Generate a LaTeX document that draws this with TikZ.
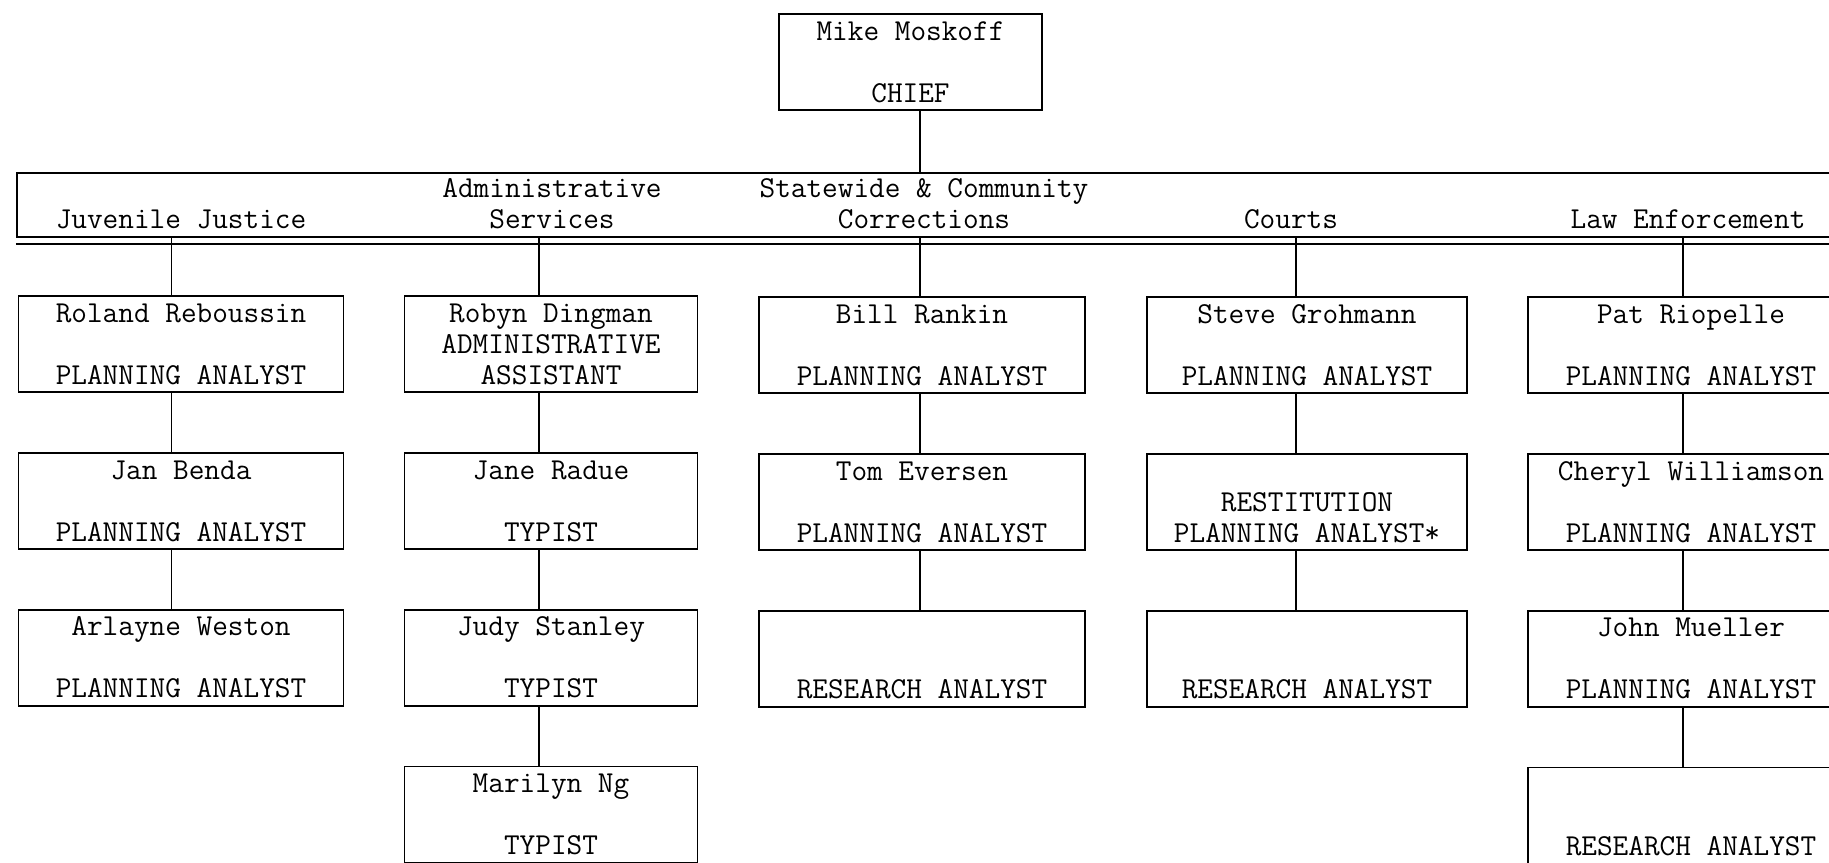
\documentclass[tikz,border=0pt]{standalone}
\usepackage{fontspec}
\usepackage{tikz}
\usetikzlibrary{positioning}
\newcommand{\orgfont}{\ttfamily\fontsize{15.2}{15.5}\selectfont}
\newcommand{\slots}[3]{\rule{0pt}{12.4pt}#1\\\strut#2\\\rule[-3.1pt]{0pt}{3.1pt}#3}
\tikzset{
  staffbox/.style={draw, line width=0.9pt, minimum height=48pt, inner sep=0pt, align=center, font=\orgfont},
  chiefbox/.style={staffbox, minimum width=131.5pt},
  headband/.style={draw, line width=1.1pt, minimum width=921.5pt, minimum height=32pt, inner sep=0pt},
  headtext/.style={align=center, font=\orgfont},
  orglink/.style={line width=0.9pt}
}

\begin{document}
\begin{tikzpicture}[x=0.5pt, y=-0.5pt, node distance=29.5pt]
\clip (0,0) rectangle (1829,862);
\fill[white] (0,0) rectangle (1829,862);
% chief
\node[chiefbox] (chief) at (910.5,62) {\slots{Mike Moskoff}{}{CHIEF}};
% header band
\node[headband] (band) at (938.5,205) {};
\draw[orglink] ([yshift=-3pt]band.south west) -- ([yshift=-3pt]band.south east);
\node[headtext] (hjj) at (181,219) {Juvenile Justice};
\node[headtext] (has) at (552,203.5) {Administrative\\Services};
\node[headtext] (hsc) at (924,203.5) {Statewide \& Community\\Corrections};
\node[headtext] (hct) at (1291,219) {Courts};
\node[headtext] (hle) at (1688,219) {Law Enforcement};
% juvenile justice
\node[staffbox, minimum width=162.5pt] (jj1) at (181,344) {\slots{Roland Reboussin}{}{PLANNING ANALYST}};
\node[staffbox, minimum width=162.5pt, below=29.5pt of jj1] (jj2) {\slots{Jan Benda}{}{PLANNING ANALYST}};
\node[staffbox, minimum width=162.5pt, below=29.5pt of jj2] (jj3) {\slots{Arlayne Weston}{}{PLANNING ANALYST}};
% administrative services
\node[staffbox, minimum width=146.5pt] (as1) at (551,344) {\slots{Robyn Dingman}{ADMINISTRATIVE}{ASSISTANT}};
\node[staffbox, minimum width=146.5pt, below=29.5pt of as1] (as2) {\slots{Jane Radue}{}{TYPIST}};
\node[staffbox, minimum width=146.5pt, below=29.5pt of as2] (as3) {\slots{Judy Stanley}{}{TYPIST}};
\node[staffbox, minimum width=146.5pt, below=29.5pt of as3] (as4) {\slots{Marilyn Ng}{}{TYPIST}};
% statewide & community corrections
\node[staffbox, minimum width=163pt] (sc1) at (922,345) {\slots{Bill Rankin}{}{PLANNING ANALYST}};
\node[staffbox, minimum width=163pt, below=29.5pt of sc1] (sc2) {\slots{Tom Eversen}{}{PLANNING ANALYST}};
\node[staffbox, minimum width=163pt, below=29.5pt of sc2] (sc3) {\slots{}{}{RESEARCH ANALYST}};
% courts
\node[staffbox, minimum width=160pt] (ct1) at (1307,345) {\slots{Steve Grohmann}{}{PLANNING ANALYST}};
\node[staffbox, minimum width=160pt, below=29.5pt of ct1] (ct2) {\slots{}{RESTITUTION}{PLANNING ANALYST*}};
\node[staffbox, minimum width=160pt, below=29.5pt of ct2] (ct3) {\slots{}{}{RESEARCH ANALYST}};
% law enforcement
\node[staffbox, minimum width=163pt] (le1) at (1691,345) {\slots{Pat Riopelle}{}{PLANNING ANALYST}};
\node[staffbox, minimum width=163pt, below=29.5pt of le1] (le2) {\slots{Cheryl Williamson}{}{PLANNING ANALYST}};
\node[staffbox, minimum width=163pt, below=29.5pt of le2] (le3) {\slots{John Mueller}{}{PLANNING ANALYST}};
\node[staffbox, minimum width=163pt, below=29.5pt of le3] (le4) {\slots{}{}{RESEARCH ANALYST}};
% connector lines
\coordinate (jjx) at (171.5,0);
\coordinate (asx) at (539,0);
\coordinate (scx) at (920,0);
\coordinate (ctx) at (1296,0);
\coordinate (lex) at (1683,0);
\draw[orglink] (chief.south -| scx) -- (band.north -| scx);
\draw[orglink] (band.south -| jjx) -- (jj1.north -| jjx) (jj1.south -| jjx) -- (jj2.north -| jjx)
  (jj2.south -| jjx) -- (jj3.north -| jjx);
\draw[orglink] (band.south -| asx) -- (as1.north -| asx) (as1.south -| asx) -- (as2.north -| asx)
  (as2.south -| asx) -- (as3.north -| asx) (as3.south -| asx) -- (as4.north -| asx);
\draw[orglink] (band.south -| scx) -- (sc1.north -| scx) (sc1.south -| scx) -- (sc2.north -| scx)
  (sc2.south -| scx) -- (sc3.north -| scx);
\draw[orglink] (band.south -| ctx) -- (ct1.north -| ctx) (ct1.south -| ctx) -- (ct2.north -| ctx)
  (ct2.south -| ctx) -- (ct3.north -| ctx);
\draw[orglink] (band.south -| lex) -- (le1.north -| lex) (le1.south -| lex) -- (le2.north -| lex)
  (le2.south -| lex) -- (le3.north -| lex) (le3.south -| lex) -- (le4.north -| lex);
\end{tikzpicture}
\end{document}
